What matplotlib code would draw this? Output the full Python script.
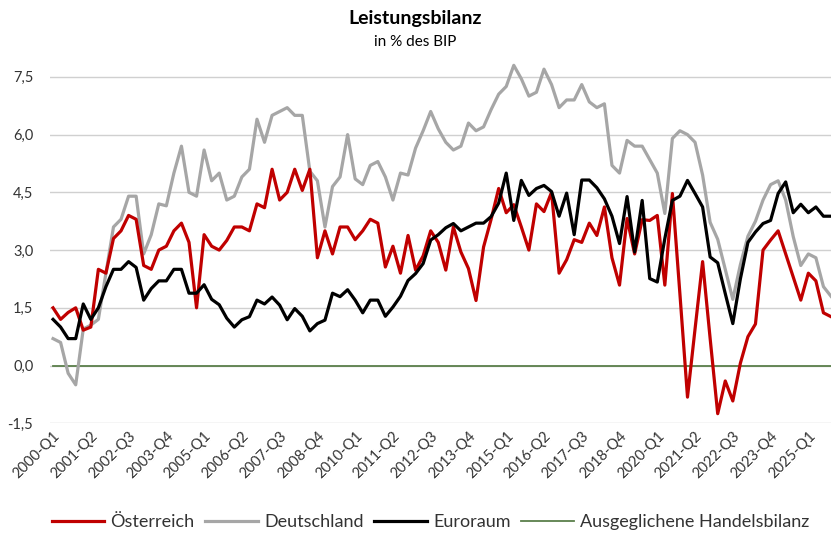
import matplotlib
matplotlib.use("Agg")
import matplotlib.pyplot as plt
from matplotlib.ticker import FuncFormatter

plt.rcParams['font.family'] = ['Lato', 'DejaVu Sans']

# Quartale 2000-Q1 .. 2025-Q4
quarters = [f"{y}-Q{q}" for y in range(2000, 2026) for q in range(1, 5)]

oesterreich = [
    1.5, 1.2, 1.38, 1.5, 0.92, 1.0, 2.5, 2.4, 3.3, 3.5,
    3.9, 3.8, 2.6, 2.5, 3.0, 3.1, 3.5, 3.7, 3.2, 1.5,
    3.4, 3.1, 3.0, 3.25, 3.6, 3.6, 3.5, 4.2, 4.1, 5.1,
    4.3, 4.5, 5.1, 4.55, 5.1, 2.8, 3.5, 2.9, 3.6, 3.6,
    3.27, 3.5, 3.8, 3.7, 2.56, 3.1, 2.4, 3.38, 2.48, 2.85,
    3.5, 3.2, 2.48, 3.6, 2.95, 2.52, 1.69, 3.08, 3.8, 4.6,
    3.97, 4.18, 3.6, 3.0, 4.2, 4.0, 4.5, 2.4, 2.75, 3.27,
    3.2, 3.7, 3.38, 4.12, 2.8, 2.09, 3.82, 2.9, 3.79, 3.77,
    3.9, 2.09, 4.47, 1.85, -0.82, 0.95, 2.7, 0.7, -1.25, -0.4,
    -0.92, 0.06, 0.75, 1.08, 3.0, 3.26, 3.5, 2.9, 2.3, 1.7,
    2.4, 2.2, 1.37, 1.27,
]

deutschland = [
    0.7, 0.6, -0.2, -0.5, 0.95, 1.05, 1.2, 2.4, 3.6, 3.8,
    4.4, 4.4, 2.9, 3.4, 4.2, 4.15, 5.0, 5.7, 4.5, 4.4,
    5.6, 4.8, 5.0, 4.3, 4.4, 4.9, 5.1, 6.4, 5.8, 6.5,
    6.6, 6.7, 6.5, 6.5, 5.05, 4.8, 3.6, 4.65, 4.9, 6.0,
    4.85, 4.7, 5.2, 5.3, 4.9, 4.3, 5.0, 4.95, 5.65, 6.1,
    6.6, 6.15, 5.8, 5.6, 5.7, 6.3, 6.1, 6.2, 6.65, 7.05,
    7.25, 7.8, 7.45, 7.0, 7.1, 7.7, 7.3, 6.7, 6.9, 6.9,
    7.3, 6.85, 6.7, 6.8, 5.2, 5.0, 5.85, 5.7, 5.7, 5.35,
    5.0, 3.95, 5.9, 6.1, 6.0, 5.8, 4.95, 3.72, 3.28, 2.5,
    1.72, 2.62, 3.36, 3.75, 4.3, 4.7, 4.8, 4.3, 3.35, 2.6,
    2.9, 2.8, 2.05, 1.8,
]

euroraum = [
    1.2, 1.0, 0.7, 0.7, 1.6, 1.2, 1.5, 2.05, 2.5, 2.5,
    2.7, 2.55, 1.7, 2.0, 2.2, 2.2, 2.5, 2.5, 1.88, 1.88,
    2.1, 1.72, 1.58, 1.23, 1.0, 1.19, 1.27, 1.7, 1.6, 1.78,
    1.57, 1.19, 1.48, 1.28, 0.9, 1.09, 1.18, 1.88, 1.79, 1.97,
    1.7, 1.37, 1.7, 1.7, 1.28, 1.52, 1.8, 2.21, 2.39, 2.65,
    3.26, 3.4, 3.58, 3.69, 3.5, 3.6, 3.7, 3.7, 3.87, 4.22,
    5.0, 3.77, 4.81, 4.42, 4.6, 4.68, 4.52, 3.88, 4.48, 3.4,
    4.82, 4.82, 4.62, 4.33, 3.88, 3.17, 4.39, 2.95, 4.29, 2.26,
    2.17, 3.3, 4.29, 4.4, 4.81, 4.47, 4.12, 2.82, 2.67, 1.87,
    1.09, 2.25, 3.2, 3.47, 3.69, 3.77, 4.47, 4.77, 3.97, 4.19,
    3.97, 4.12, 3.88, 3.88,
]

ausgeglichen = [0.0] * len(quarters)

yticks = [-1.5, 0.0, 1.5, 3.0, 4.5, 6.0, 7.5]

fig = plt.figure(figsize=(8.31, 5.42), dpi=100)
ax = fig.add_axes([0.0602, 0.219, 0.9398, 0.6747])

x = list(range(len(quarters)))
ax.plot(x, oesterreich, color="#C00000", lw=2.3, label="Österreich", zorder=3)
ax.plot(x, deutschland, color="#A6A6A6", lw=2.3, label="Deutschland", zorder=2)
ax.plot(x, euroraum, color="#000000", lw=2.3, label="Euroraum", zorder=4)
ax.plot(x, ausgeglichen, color="#5B7F4B", lw=1.3, label="Ausgeglichene Handelsbilanz", zorder=1)

ax.set_xlim(-0.4, len(quarters) - 1)
ax.set_ylim(-1.5, 8.0)
ax.set_yticks(yticks)
ax.yaxis.set_major_formatter(FuncFormatter(lambda v, p: f"{v:.1f}".replace(".", ",")))
ax.grid(axis="y", color="#D0D0D0", lw=1.0)
ax.set_axisbelow(True)

ax.set_xticks(x[::5])
ax.set_xticklabels(quarters[::5], rotation=45, ha="right", rotation_mode="anchor")
ax.tick_params(axis="both", length=0, labelsize=10.5, colors="#333333")
ax.tick_params(axis="x", pad=4)
ax.tick_params(axis="y", pad=12)
for s in ax.spines.values():
    s.set_visible(False)

fig.text(0.5, 0.965, "Leistungsbilanz", ha="center", va="center",
         fontsize=14, fontweight="bold", color="#000000")
fig.text(0.5, 0.922, "in % des BIP", ha="center", va="center",
         fontsize=11, color="#000000")

fig.legend(loc="center", bbox_to_anchor=(0.518, 0.036), ncol=4, frameon=False,
           fontsize=13, handlelength=2.9, columnspacing=0.6, handletextpad=0.35,
           labelcolor="#333333")

fig.savefig("out.png", dpi=100)
